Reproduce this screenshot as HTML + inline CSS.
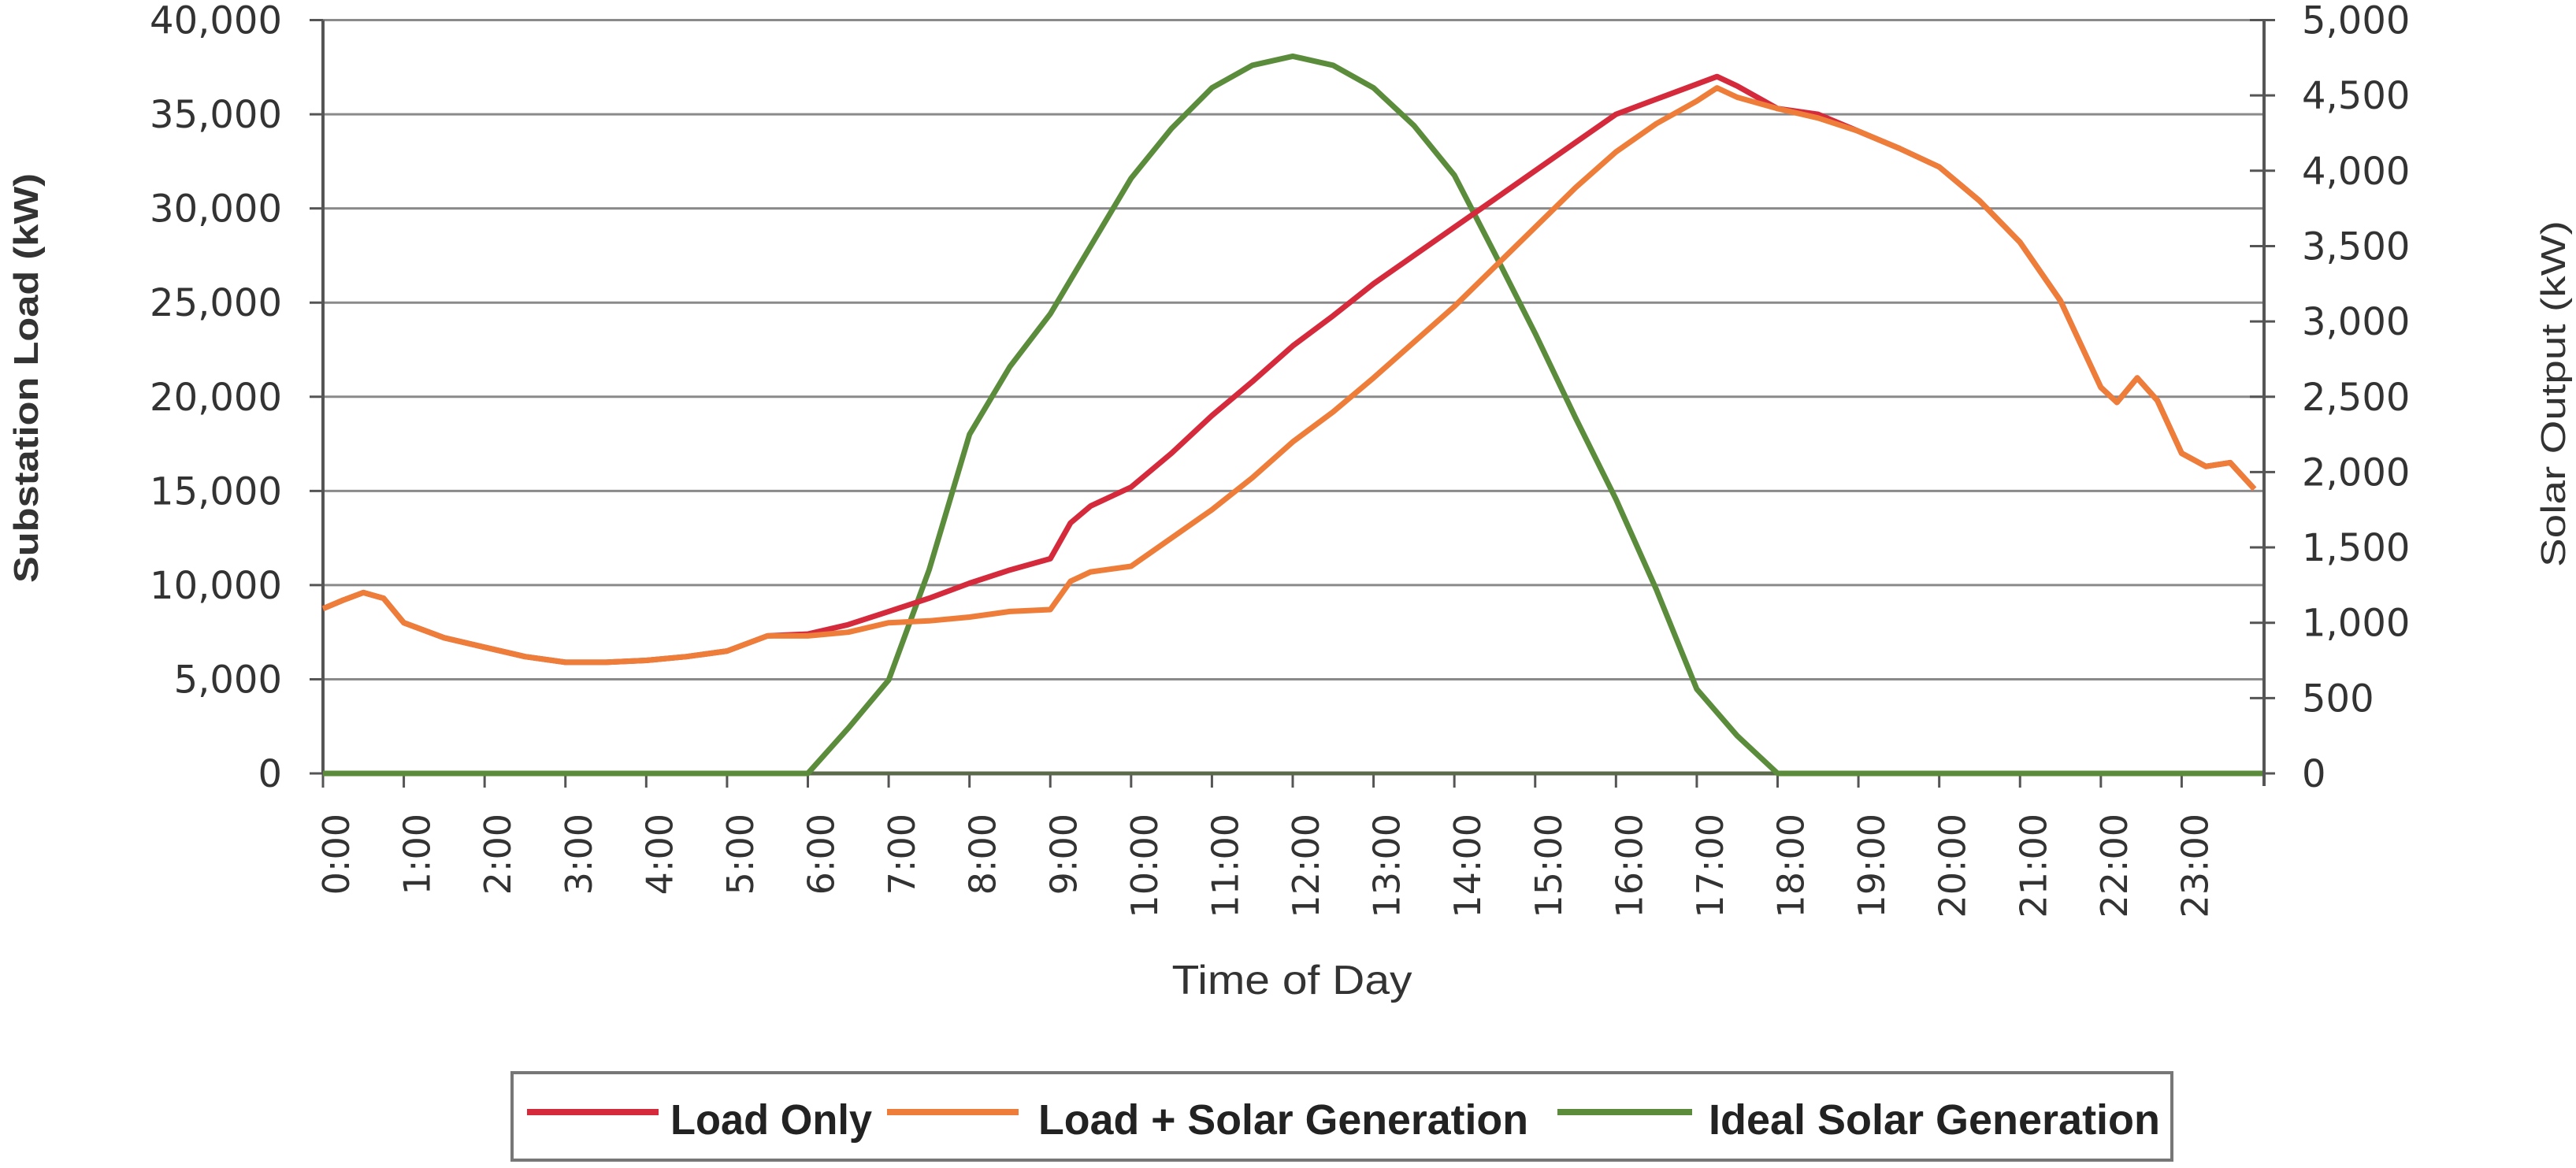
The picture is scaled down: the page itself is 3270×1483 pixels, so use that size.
<!DOCTYPE html>
<html><head><meta charset="utf-8"><style>
html,body{margin:0;padding:0;background:#fff;}
svg{display:block;}
</style></head><body>
<svg id="chart" width="3270" height="1483" viewBox="0 0 3270 1483" xmlns="http://www.w3.org/2000/svg">
<rect x="0" y="0" width="3270" height="1483" fill="#ffffff"/>
<g id="grid"></g>
<g id="axes"></g>
<g id="series"></g>
<text transform="translate(48,480) rotate(-90)" text-anchor="middle" font-family="'Liberation Sans',sans-serif" font-weight="bold" font-size="44" fill="#333" textLength="520" lengthAdjust="spacingAndGlyphs">Substation Load (kW)</text>
<text transform="translate(3256,500) rotate(-90)" text-anchor="middle" font-family="'Liberation Sans',sans-serif" font-size="44" fill="#333" textLength="440" lengthAdjust="spacingAndGlyphs">Solar Output (kW)</text>
<text x="1640" y="1262" text-anchor="middle" font-family="'Liberation Sans Narrow','Liberation Sans',sans-serif" font-size="52" fill="#333" textLength="305" lengthAdjust="spacingAndGlyphs">Time of Day</text>
<g>
<rect x="650" y="1362" width="2107" height="111" fill="#fff" stroke="#777" stroke-width="4"/>
<line x1="669" y1="1412" x2="836" y2="1412" stroke="#d42a3c" stroke-width="8"/>
<text x="851" y="1440" font-family="'Liberation Sans Narrow','Liberation Sans',sans-serif" font-weight="bold" font-size="54" fill="#222" textLength="256" lengthAdjust="spacingAndGlyphs">Load Only</text>
<line x1="1126" y1="1412" x2="1293" y2="1412" stroke="#ee7d3a" stroke-width="8"/>
<text x="1318" y="1440" font-family="'Liberation Sans Narrow','Liberation Sans',sans-serif" font-weight="bold" font-size="54" fill="#222" textLength="622" lengthAdjust="spacingAndGlyphs">Load + Solar Generation</text>
<line x1="1977" y1="1412" x2="2148" y2="1412" stroke="#5b8c3c" stroke-width="8"/>
<text x="2169" y="1440" font-family="'Liberation Sans Narrow','Liberation Sans',sans-serif" font-weight="bold" font-size="54" fill="#222" textLength="573" lengthAdjust="spacingAndGlyphs">Ideal Solar Generation</text>
</g>
</svg>
<script>
const hourLabels = ["0:00","1:00","2:00","3:00","4:00","5:00","6:00","7:00","8:00","9:00","10:00","11:00","12:00","13:00","14:00","15:00","16:00","17:00","18:00","19:00","20:00","21:00","22:00","23:00"];
const leftTicks = [0,5000,10000,15000,20000,25000,30000,35000,40000];
const leftTickLabels = ["0","5,000","10,000","15,000","20,000","25,000","30,000","35,000","40,000"];
const rightTicks = [0,500,1000,1500,2000,2500,3000,3500,4000,4500,5000];
const rightTickLabels = ["0","500","1,000","1,500","2,000","2,500","3,000","3,500","4,000","4,500","5,000"];

const loadHours = [0,0.25,0.5,0.75,1,1.5,2,2.5,3,3.5,4,4.5,5,5.5,6,6.5,7,7.5,8,8.5,9,9.25,9.5,10,10.5,11,11.5,12,12.5,13,13.5,14,14.5,15,15.5,16,16.5,17,17.25,17.5,18,18.5,19,19.5,20,20.5,21,21.5,22,22.2,22.45,22.7,23,23.3,23.6,23.9];
const loadOnly = [8750,9200,9600,9300,8000,7200,6700,6200,5900,5900,6000,6200,6500,7300,7400,7900,8600,9300,10100,10800,11400,13300,14200,15200,17000,19000,20800,22700,24300,26000,27500,29000,30500,32000,33500,35000,35800,36600,37000,36500,35300,35000,34100,33200,32200,30400,28200,25100,20500,19700,21000,19800,17000,16300,16500,15100];
const loadSolar = [8750,9200,9600,9300,8000,7200,6700,6200,5900,5900,6000,6200,6500,7300,7300,7500,8000,8100,8300,8600,8700,10200,10700,11000,12500,14000,15700,17600,19200,21000,22900,24800,26900,29000,31100,33000,34500,35700,36400,35900,35300,34800,34100,33200,32200,30400,28200,25100,20500,19700,21000,19800,17000,16300,16500,15100];

const solarHours = [0,6,6.5,7,7.5,8,8.5,9,9.5,10,10.5,11,11.5,12,12.5,13,13.5,14,14.5,15,15.5,16,16.5,17,17.5,18,24];
const idealSolar = [0,0,300,620,1350,2250,2700,3050,3500,3950,4280,4550,4700,4760,4700,4550,4300,3970,3450,2920,2360,1820,1220,560,250,0,0];

const NS = "http://www.w3.org/2000/svg";
const X0 = 410, X1 = 2872, YB = 982, YT = 25.5;
function xh(h){ return X0 + (X1 - X0) * h / 24; }
function yl(v){ return YB - (YB - YT) * v / 40000; }
function yr(v){ return YB - (YB - YT) * v / 5000; }
function mk(tag, attrs, parent){
  const el = document.createElementNS(NS, tag);
  for (const k in attrs) el.setAttribute(k, attrs[k]);
  parent.appendChild(el);
  return el;
}
const grid = document.getElementById('grid');
const axes = document.getElementById('axes');
const series = document.getElementById('series');
const font = "'DejaVu Sans','Liberation Sans',sans-serif";

leftTicks.forEach((v,i)=>{
  if (v > 0) {
    const g = mk('line',{x1:X0,y1:yl(v),x2:X1,y2:yl(v),stroke:'#8a8a8a','stroke-width':3},grid);
    
    
  }
  const t = mk('line',{x1:393,y1:yl(v),x2:X0,y2:yl(v),stroke:'#555','stroke-width':3},axes);
  
  
  const tx = mk('text',{x:358,y:yl(v)+17,'text-anchor':'end','font-family':font,'font-size':48,fill:'#333'},axes);
  
  
  tx.textContent = leftTickLabels[i];
});
rightTicks.forEach((v,i)=>{
  const t = mk('line',{x1:X1-16,y1:yr(v),x2:X1+16,y2:yr(v),stroke:'#555','stroke-width':3},axes);
  
  
  const tx = mk('text',{x:2922,y:yr(v)+17,'text-anchor':'start','font-family':font,'font-size':48,fill:'#333'},axes);
  
  
  tx.textContent = rightTickLabels[i];
});
hourLabels.forEach((lab,i)=>{
  const x = xh(i);
  const t = mk('line',{x1:x,y1:YB,x2:x,y2:1000,stroke:'#555','stroke-width':3},axes);
  
  
  const tx = mk('text',{'text-anchor':'end','font-family':font,'font-size':46,fill:'#333',transform:'translate(' + (x+33) + ',1033) rotate(-90)'},axes);
  
  
  tx.textContent = lab;
});
const la = mk('line',{x1:X0,y1:YT,x2:X0,y2:YB,stroke:'#555','stroke-width':4},axes);


const ra = mk('line',{x1:X1+2,y1:YT,x2:X1+2,y2:YB+16,stroke:'#555','stroke-width':4},axes);


const tg = mk('line',{x1:X0,y1:YT,x2:X1,y2:YT,stroke:'#8a8a8a','stroke-width':3},grid);



function path(hours, vals, yf){
  return hours.map((h,i)=>(i? 'L':'M') + xh(h).toFixed(1) + ',' + yf(vals[i]).toFixed(1)).join(' ');
}
const gs = mk('path',{d:path(solarHours,idealSolar,yr),fill:'none',stroke:'#5b8c3c','stroke-width':7,'stroke-linejoin':'round'},series);


const ba = mk('line',{x1:X0,y1:YB,x2:X1,y2:YB,stroke:'#5a6a4a','stroke-width':5},axes);


const rl = mk('path',{d:path(loadHours,loadOnly,yl),fill:'none',stroke:'#d42a3c','stroke-width':7,'stroke-linejoin':'round'},series);


const ol = mk('path',{d:path(loadHours,loadSolar,yl),fill:'none',stroke:'#ee7d3a','stroke-width':7,'stroke-linejoin':'round'},series);


</script>
</body></html>
